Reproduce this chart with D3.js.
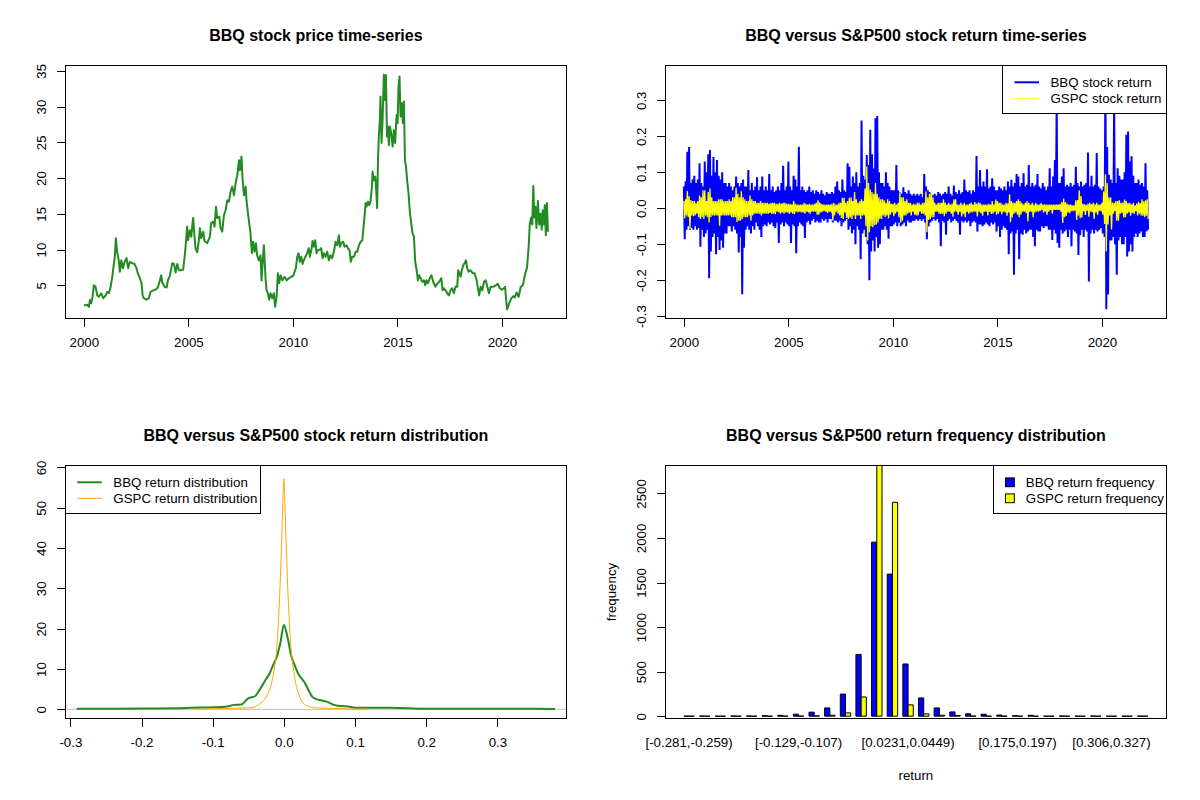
<!DOCTYPE html>
<html>
<head>
<meta charset="utf-8">
<script src="https://cdn.jsdelivr.net/npm/d3@7"></script>
<style>
  body { margin: 0; background: #fff; }
  text { font-family: "Liberation Sans", Arial, sans-serif; }
</style>
</head>
<body>
<svg id="chart" width="1200" height="800"></svg>
<script>
// ---- data ----

// BBQ closing price, [decimal year, price]
const priceSeries = [
  [2000.00,2.25],[2000.08,2.2],[2000.16,2.3],[2000.24,2.0],[2000.29,2.95],[2000.35,2.5],[2000.41,3.3],[2000.48,5.0],
  [2000.56,4.8],[2000.64,3.6],[2000.72,3.4],[2000.83,3.9],[2000.93,3.2],[2001.04,3.6],[2001.12,4.1],[2001.20,3.9],
  [2001.28,4.8],[2001.36,6.2],[2001.44,8.1],[2001.48,9.0],[2001.53,11.6],[2001.59,9.7],[2001.67,8.5],[2001.72,6.9],
  [2001.79,8.5],[2001.87,7.4],[2001.95,8.3],[2002.04,8.8],[2002.12,7.4],[2002.20,8.3],[2002.31,8.1],[2002.42,8.0],
  [2002.52,7.4],[2002.58,6.7],[2002.68,6.0],[2002.76,5.3],[2002.81,3.6],[2002.87,3.2],[2003.00,3.0],[2003.11,3.2],
  [2003.19,4.1],[2003.32,4.3],[2003.43,4.4],[2003.54,4.7],[2003.64,5.7],[2003.70,6.4],[2003.75,5.4],[2003.86,4.8],
  [2003.96,4.7],[2004.02,5.7],[2004.11,6.3],[2004.23,8.1],[2004.31,8.0],[2004.39,6.8],[2004.47,8.0],[2004.55,7.1],
  [2004.66,7.1],[2004.75,7.2],[2004.82,9.0],[2004.86,10.2],[2004.94,13.2],[2004.99,11.3],[2005.07,12.7],[2005.14,11.8],
  [2005.20,13.7],[2005.23,14.4],[2005.30,11.6],[2005.34,10.2],[2005.42,9.6],[2005.50,11.3],[2005.55,13.0],[2005.61,11.6],
  [2005.71,12.5],[2005.77,11.2],[2005.90,10.9],[2006.03,11.8],[2006.09,13.7],[2006.19,13.9],[2006.25,13.2],[2006.32,16.0],
  [2006.38,14.4],[2006.48,14.6],[2006.54,13.0],[2006.62,12.5],[2006.70,14.8],[2006.78,15.5],[2006.86,16.9],[2006.94,16.7],
  [2007.02,18.1],[2007.10,18.8],[2007.18,17.6],[2007.26,19.3],[2007.34,20.4],[2007.42,22.5],[2007.46,21.1],[2007.50,21.6],
  [2007.54,23.0],[2007.59,20.0],[2007.66,17.6],[2007.74,18.8],[2007.78,16.9],[2007.85,15.1],[2007.91,13.7],[2007.97,12.3],
  [2008.04,9.5],[2008.10,11.1],[2008.17,9.7],[2008.23,10.9],[2008.29,9.2],[2008.37,8.5],[2008.45,9.2],[2008.50,5.7],
  [2008.56,8.5],[2008.61,10.6],[2008.64,9.0],[2008.69,6.0],[2008.74,4.3],[2008.80,3.9],[2008.87,3.0],[2008.93,3.9],
  [2009.01,3.2],[2009.09,3.9],[2009.15,2.0],[2009.22,3.4],[2009.28,6.7],[2009.34,5.3],[2009.41,6.4],[2009.50,5.7],
  [2009.60,6.2],[2009.70,5.7],[2009.81,6.0],[2009.92,6.2],[2010.01,6.3],[2010.08,6.9],[2010.14,7.4],[2010.21,9.0],
  [2010.27,9.5],[2010.33,8.3],[2010.40,9.0],[2010.46,8.0],[2010.52,8.5],[2010.60,9.0],[2010.68,9.5],[2010.76,10.2],
  [2010.81,9.0],[2010.88,9.9],[2010.94,11.2],[2011.00,10.4],[2011.07,11.3],[2011.13,9.5],[2011.19,9.9],[2011.29,10.0],
  [2011.35,10.2],[2011.42,8.8],[2011.48,9.5],[2011.56,9.0],[2011.64,9.7],[2011.72,8.5],[2011.80,9.2],[2011.88,8.8],
  [2011.96,9.7],[2012.04,11.1],[2012.12,10.6],[2012.20,12.0],[2012.25,10.4],[2012.31,10.9],[2012.41,11.1],[2012.47,10.4],
  [2012.57,10.6],[2012.63,10.2],[2012.71,9.9],[2012.77,8.3],[2012.84,9.0],[2012.92,9.0],[2013.00,9.7],[2013.08,9.7],
  [2013.16,10.6],[2013.24,11.1],[2013.32,11.3],[2013.36,12.5],[2013.43,14.8],[2013.48,16.5],[2013.52,16.0],[2013.59,16.7],
  [2013.65,16.2],[2013.71,16.7],[2013.78,18.8],[2013.81,20.9],[2013.87,19.7],[2013.94,20.2],[2013.99,18.1],[2014.03,15.8],
  [2014.07,22.5],[2014.11,25.8],[2014.16,28.1],[2014.19,31.4],[2014.24,24.9],[2014.29,28.1],[2014.35,34.45],[2014.40,30.9],
  [2014.45,34.4],[2014.50,25.8],[2014.54,27.2],[2014.59,24.6],[2014.64,27.2],[2014.70,26.3],[2014.77,24.4],[2014.83,26.7],
  [2014.89,24.9],[2014.96,28.8],[2015.01,27.7],[2015.05,32.6],[2015.10,34.2],[2015.15,28.6],[2015.20,30.5],[2015.26,27.7],
  [2015.31,30.7],[2015.36,22.5],[2015.41,21.6],[2015.47,19.5],[2015.53,17.9],[2015.60,15.1],[2015.66,13.7],[2015.72,12.3],
  [2015.79,11.8],[2015.85,8.3],[2015.92,7.1],[2015.98,5.7],[2016.04,6.4],[2016.11,6.0],[2016.19,5.5],[2016.27,5.7],
  [2016.33,5.0],[2016.39,5.7],[2016.46,5.3],[2016.55,6.0],[2016.63,6.4],[2016.71,5.5],[2016.82,4.8],[2016.90,5.2],
  [2017.00,5.5],[2017.10,6.0],[2017.16,4.3],[2017.22,4.6],[2017.30,4.3],[2017.38,3.9],[2017.46,3.6],[2017.54,4.3],
  [2017.62,4.6],[2017.70,3.9],[2017.78,4.8],[2017.86,4.8],[2017.91,7.1],[2017.96,6.7],[2018.02,6.2],[2018.08,7.1],
  [2018.15,7.8],[2018.21,8.1],[2018.28,8.5],[2018.34,7.4],[2018.40,6.9],[2018.50,7.1],[2018.60,6.7],[2018.69,6.7],
  [2018.79,5.7],[2018.85,4.6],[2018.91,3.6],[2018.98,4.8],[2019.06,4.3],[2019.14,5.5],[2019.22,5.7],[2019.30,4.8],
  [2019.38,3.9],[2019.46,4.8],[2019.58,4.8],[2019.70,5.0],[2019.80,5.2],[2019.90,4.6],[2020.00,4.4],[2020.10,4.6],
  [2020.15,4.8],[2020.20,3.0],[2020.25,1.65],[2020.30,2.1],[2020.35,2.5],[2020.45,3.2],[2020.55,3.5],[2020.62,3.3],
  [2020.70,4.0],[2020.80,3.4],[2020.90,4.8],[2021.00,5.0],[2021.10,6.5],[2021.20,7.5],[2021.28,10.5],[2021.33,13.5],
  [2021.40,14.5],[2021.45,13.5],[2021.50,18.9],[2021.55,14.5],[2021.60,16.0],[2021.65,13.0],[2021.72,16.8],[2021.78,13.5],
  [2021.85,15.0],[2021.90,12.8],[2021.95,15.5],[2022.00,13.5],[2022.05,16.2],[2022.10,12.0],[2022.15,16.5],[2022.20,12.5]
];

// monthly highest / lowest daily return, Jan 2000 .. Mar 2022 (one row per year)
const bbqHi = [
  0.06,0.075,0.157,0.17,0.07,0.08,0.09,0.07,0.08,0.125,0.07,0.06,
  0.13,0.1,0.15,0.162,0.09,0.142,0.1,0.134,0.09,0.08,0.1,0.07,
  0.07,0.06,0.07,0.06,0.05,0.06,0.088,0.07,0.06,0.07,0.08,0.06,
  0.06,0.106,0.05,0.07,0.05,0.06,0.086,0.05,0.06,0.088,0.05,0.06,
  0.05,0.095,0.05,0.06,0.045,0.05,0.06,0.05,0.07,0.118,0.05,0.06,
  0.13,0.06,0.05,0.09,0.08,0.06,0.171,0.05,0.06,0.05,0.045,0.05,
  0.06,0.045,0.05,0.04,0.05,0.045,0.04,0.05,0.04,0.035,0.045,0.04,
  0.04,0.045,0.04,0.06,0.074,0.05,0.045,0.08,0.05,0.045,0.125,0.115,
  0.06,0.088,0.07,0.1,0.06,0.07,0.244,0.09,0.08,0.148,0.12,0.218,
  0.15,0.11,0.25,0.256,0.1,0.07,0.07,0.06,0.1,0.07,0.06,0.05,
  0.05,0.05,0.12,0.05,0.045,0.04,0.058,0.045,0.04,0.05,0.04,0.035,
  0.04,0.035,0.04,0.035,0.04,0.03,0.095,0.06,0.05,0.045,0.04,0.035,
  0.04,0.035,0.045,0.04,0.035,0.04,0.045,0.04,0.06,0.04,0.035,0.063,
  0.045,0.04,0.05,0.04,0.045,0.08,0.05,0.045,0.05,0.04,0.05,0.045,
  0.145,0.06,0.106,0.06,0.074,0.06,0.108,0.055,0.06,0.083,0.06,0.05,
  0.05,0.06,0.055,0.05,0.06,0.05,0.074,0.06,0.079,0.06,0.07,0.095,
  0.088,0.06,0.07,0.097,0.06,0.065,0.12,0.06,0.07,0.06,0.065,0.095,
  0.06,0.055,0.07,0.06,0.05,0.06,0.111,0.06,0.088,0.134,0.3,0.07,
  0.07,0.088,0.111,0.06,0.065,0.06,0.07,0.06,0.065,0.115,0.07,0.06,
  0.074,0.06,0.065,0.07,0.155,0.06,0.09,0.06,0.065,0.153,0.06,0.055,
  0.05,0.06,0.371,0.17,0.093,0.08,0.07,0.30,0.07,0.111,0.09,0.08,
  0.08,0.1,0.204,0.213,0.13,0.144,0.09,0.07,0.07,0.08,0.065,0.07,
  0.06,0.125,0.05
];
const bbqLo = [
  -0.086,-0.06,-0.05,-0.06,-0.055,-0.06,-0.05,-0.06,-0.055,-0.107,-0.06,-0.08,
  -0.07,-0.06,-0.195,-0.12,-0.08,-0.07,-0.128,-0.08,-0.116,-0.09,-0.11,-0.07,
  -0.07,-0.05,-0.05,-0.065,-0.05,-0.06,-0.07,-0.123,-0.08,-0.239,-0.11,-0.06,
  -0.05,-0.06,-0.07,-0.05,-0.06,-0.04,-0.05,-0.06,-0.08,-0.05,-0.045,-0.05,
  -0.04,-0.045,-0.04,-0.05,-0.055,-0.04,-0.097,-0.045,-0.04,-0.05,-0.04,-0.045,
  -0.05,-0.097,-0.045,-0.05,-0.125,-0.05,-0.04,-0.045,-0.05,-0.083,-0.04,-0.035,
  -0.045,-0.035,-0.03,-0.04,-0.035,-0.04,-0.04,-0.03,-0.035,-0.03,-0.04,-0.03,
  -0.03,-0.04,-0.035,-0.035,-0.04,-0.035,-0.05,-0.04,-0.035,-0.03,-0.06,-0.05,
  -0.07,-0.06,-0.1,-0.05,-0.06,-0.142,-0.07,-0.06,-0.08,-0.1,-0.2,-0.12,
  -0.09,-0.12,-0.08,-0.11,-0.1,-0.06,-0.06,-0.05,-0.06,-0.085,-0.05,-0.05,
  -0.045,-0.04,-0.05,-0.04,-0.05,-0.045,-0.04,-0.05,-0.035,-0.04,-0.04,-0.035,
  -0.035,-0.03,-0.035,-0.03,-0.035,-0.03,-0.04,-0.086,-0.05,-0.04,-0.035,-0.03,
  -0.035,-0.03,-0.04,-0.106,-0.035,-0.04,-0.074,-0.035,-0.03,-0.04,-0.035,-0.03,
  -0.035,-0.04,-0.074,-0.035,-0.04,-0.035,-0.04,-0.035,-0.05,-0.04,-0.035,-0.04,
  -0.065,-0.045,-0.045,-0.05,-0.045,-0.04,-0.045,-0.05,-0.04,-0.045,-0.04,-0.065,
  -0.05,-0.08,-0.06,-0.05,-0.055,-0.06,-0.128,-0.07,-0.065,-0.185,-0.07,-0.06,
  -0.142,-0.07,-0.074,-0.06,-0.07,-0.065,-0.06,-0.06,-0.08,-0.106,-0.06,-0.065,
  -0.065,-0.05,-0.055,-0.05,-0.05,-0.06,-0.06,-0.088,-0.06,-0.07,-0.097,-0.11,
  -0.06,-0.07,-0.065,-0.06,-0.08,-0.06,-0.106,-0.06,-0.065,-0.07,-0.13,-0.075,
  -0.06,-0.08,-0.06,-0.065,-0.204,-0.07,-0.06,-0.07,-0.06,-0.065,-0.06,-0.055,
  -0.07,-0.08,-0.281,-0.24,-0.09,-0.09,-0.08,-0.1,-0.185,-0.09,-0.08,-0.1,
  -0.1,-0.08,-0.134,-0.12,-0.1,-0.12,-0.08,-0.07,-0.08,-0.07,-0.065,-0.08,
  -0.08,-0.065,-0.06
];
const gspcHi = [
  0.02,0.025,0.048,0.033,0.023,0.02,0.02,0.015,0.02,0.035,0.03,0.05,
  0.05,0.02,0.045,0.055,0.03,0.02,0.02,0.02,0.025,0.025,0.025,0.02,
  0.02,0.02,0.025,0.02,0.03,0.03,0.057,0.04,0.03,0.047,0.03,0.025,
  0.02,0.02,0.035,0.025,0.02,0.02,0.015,0.015,0.02,0.015,0.015,0.015,
  0.015,0.012,0.015,0.015,0.015,0.012,0.012,0.015,0.012,0.015,0.015,0.012,
  0.012,0.012,0.01,0.02,0.012,0.01,0.01,0.01,0.01,0.015,0.012,0.01,
  0.012,0.01,0.01,0.012,0.015,0.022,0.016,0.012,0.01,0.01,0.01,0.01,
  0.01,0.012,0.015,0.01,0.01,0.015,0.015,0.029,0.029,0.015,0.02,0.029,
  0.03,0.02,0.045,0.025,0.015,0.02,0.025,0.02,0.055,0.116,0.07,0.052,
  0.045,0.04,0.07,0.04,0.03,0.025,0.025,0.022,0.015,0.025,0.02,0.012,
  0.012,0.015,0.01,0.015,0.044,0.03,0.03,0.02,0.025,0.015,0.015,0.01,
  0.012,0.01,0.015,0.015,0.01,0.015,0.015,0.047,0.03,0.04,0.043,0.03,
  0.015,0.01,0.015,0.015,0.015,0.025,0.016,0.01,0.015,0.01,0.013,0.025,
  0.025,0.01,0.01,0.015,0.01,0.015,0.01,0.01,0.012,0.015,0.01,0.017,
  0.012,0.016,0.015,0.01,0.01,0.01,0.01,0.012,0.01,0.02,0.01,0.024,
  0.02,0.015,0.015,0.01,0.01,0.015,0.013,0.039,0.02,0.016,0.015,0.02,
  0.025,0.02,0.015,0.01,0.015,0.02,0.015,0.01,0.015,0.01,0.015,0.01,
  0.01,0.014,0.01,0.011,0.01,0.01,0.01,0.01,0.01,0.01,0.01,0.01,
  0.012,0.017,0.027,0.017,0.013,0.01,0.01,0.008,0.008,0.022,0.023,0.05,
  0.034,0.012,0.011,0.009,0.012,0.015,0.011,0.015,0.011,0.015,0.01,0.01,
  0.015,0.046,0.094,0.07,0.03,0.03,0.016,0.015,0.02,0.02,0.022,0.015,
  0.016,0.024,0.02,0.014,0.015,0.011,0.015,0.008,0.013,0.018,0.014,0.025,
  0.019,0.022,0.025
];
const gspcLo = [
  -0.028,-0.02,-0.025,-0.058,-0.02,-0.022,-0.02,-0.015,-0.025,-0.03,-0.025,-0.03,
  -0.02,-0.025,-0.04,-0.025,-0.02,-0.02,-0.02,-0.02,-0.049,-0.02,-0.02,-0.02,
  -0.02,-0.02,-0.02,-0.025,-0.025,-0.025,-0.038,-0.035,-0.035,-0.03,-0.025,-0.025,
  -0.025,-0.02,-0.035,-0.02,-0.015,-0.015,-0.015,-0.015,-0.02,-0.015,-0.015,-0.015,
  -0.015,-0.013,-0.016,-0.015,-0.017,-0.01,-0.012,-0.015,-0.012,-0.015,-0.012,-0.012,
  -0.015,-0.012,-0.015,-0.017,-0.01,-0.012,-0.01,-0.012,-0.012,-0.015,-0.01,-0.012,
  -0.015,-0.01,-0.01,-0.01,-0.018,-0.018,-0.012,-0.01,-0.008,-0.01,-0.013,-0.01,
  -0.012,-0.035,-0.02,-0.01,-0.015,-0.02,-0.027,-0.03,-0.012,-0.027,-0.03,-0.026,
  -0.03,-0.02,-0.03,-0.02,-0.02,-0.03,-0.02,-0.02,-0.05,-0.09,-0.067,-0.05,
  -0.053,-0.047,-0.045,-0.04,-0.03,-0.03,-0.02,-0.025,-0.02,-0.028,-0.018,-0.012,
  -0.022,-0.015,-0.01,-0.025,-0.04,-0.035,-0.02,-0.02,-0.015,-0.012,-0.02,-0.01,
  -0.018,-0.02,-0.02,-0.01,-0.015,-0.015,-0.02,-0.067,-0.033,-0.03,-0.025,-0.025,
  -0.01,-0.01,-0.015,-0.017,-0.015,-0.022,-0.015,-0.01,-0.01,-0.015,-0.024,-0.01,
  -0.01,-0.018,-0.01,-0.023,-0.015,-0.025,-0.01,-0.015,-0.012,-0.012,-0.01,-0.01,
  -0.023,-0.01,-0.014,-0.021,-0.01,-0.01,-0.02,-0.01,-0.016,-0.015,-0.01,-0.018,
  -0.015,-0.01,-0.017,-0.01,-0.012,-0.021,-0.012,-0.039,-0.026,-0.015,-0.012,-0.018,
  -0.025,-0.018,-0.01,-0.01,-0.013,-0.036,-0.01,-0.01,-0.025,-0.012,-0.01,-0.01,
  -0.008,-0.005,-0.012,-0.01,-0.018,-0.01,-0.005,-0.015,-0.005,-0.005,-0.005,-0.005,
  -0.01,-0.041,-0.025,-0.022,-0.012,-0.014,-0.008,-0.008,-0.007,-0.033,-0.02,-0.028,
  -0.026,-0.008,-0.019,-0.007,-0.024,-0.01,-0.011,-0.03,-0.012,-0.018,-0.007,-0.009,
  -0.018,-0.044,-0.12,-0.045,-0.02,-0.059,-0.015,-0.008,-0.035,-0.035,-0.015,-0.013,
  -0.026,-0.025,-0.015,-0.012,-0.021,-0.013,-0.016,-0.008,-0.02,-0.015,-0.02,-0.021,
  -0.025,-0.021,-0.03
];

// kernel density estimates
const bbqDensX = [-0.291,-0.25,-0.2,-0.15,-0.13,-0.1,-0.08,-0.07,-0.06,-0.05,-0.045,-0.04,-0.035,-0.03,-0.025,-0.02,-0.015,-0.01,-0.005,0,
  0.005,0.01,0.015,0.02,0.025,0.03,0.035,0.04,0.045,0.05,0.06,0.07,0.08,0.09,0.1,0.15,0.2,0.25,0.3,0.35,0.381];
const bbqDensY = [0.15,0.15,0.2,0.25,0.4,0.5,0.7,1.1,1.2,2.7,3.0,3.3,4.6,6.0,7.5,8.9,11.0,13.0,16.4,20.9,
  18.0,13.5,11.0,8.9,7.6,6.4,4.6,3.1,2.6,2.3,1.9,1.1,0.8,0.7,0.4,0.4,0.15,0.15,0.15,0.15,0.1];
const gspcDensX = [-0.125,-0.1,-0.08,-0.06,-0.045,-0.033,-0.025,-0.0175,-0.0135,-0.0102,-0.007,-0.0035,-0.0015,0,
  0.0015,0.0035,0.007,0.0102,0.0135,0.0167,0.022,0.027,0.035,0.045,0.06,0.08,0.09,0.118];
const gspcDensY = [0.02,0.1,0.2,0.3,0.4,1.5,3.0,6.4,10,14.7,24,39.5,51,57.2,
  51,39.5,24,14.7,10,6.4,3.2,1.5,0.7,0.35,0.25,0.2,0.1,0.02];
const densityYMax = 58.2;

// frequency table, 30 equal bins
const binBreaks = ["-0.281","-0.259","-0.238","-0.216","-0.194","-0.173","-0.151","-0.129","-0.107","-0.0856","-0.0638",
  "-0.0421","-0.0204","0.00139","0.0231","0.0449","0.0666","0.0884","0.11","0.132","0.154","0.175","0.197","0.219",
  "0.241","0.262","0.284","0.306","0.327","0.349","0.371"];
const bbqCounts  = [1,2,0,3,3,5,10,22,45,93,248,693,1953,1594,586,205,93,48,26,22,13,6,10,0,3,1,2,0,0,1];
const gspcCounts = [0,0,0,0,0,0,0,1,4,11,37,216,2815,2400,127,26,11,8,2,0,0,0,0,0,0,0,0,0,0,0];
const shownBins = [0, 7, 14, 21, 27];

// tick labels
const yearTicks = [2000, 2005, 2010, 2015, 2020];
const priceTicks = [5, 10, 15, 20, 25, 30, 35];
const returnTicks = [-0.3, -0.2, -0.1, 0, 0.1, 0.2, 0.3];
const returnTickLabels = ["-0.3", "-0.2", "-0.1", "0.0", "0.1", "0.2", "0.3"];
const densityTicks = [0, 10, 20, 30, 40, 50, 60];
const freqTicks = [0, 500, 1000, 1500, 2000, 2500];

// ---- layout ----
const svg = d3.select("#chart");
svg.append("rect").attr("width", 1200).attr("height", 800).attr("fill", "#fff");

const plotW = 501.2, plotH = 253.4;
const corners = [[65.3, 65.3], [665.3, 65.3], [65.3, 465.3], [665.3, 465.3]];
const fontSize = 13.3;

// R style 4% range extension
function pad(ext) {
  const r = ext[1] - ext[0];
  return [ext[0] - 0.04 * r, ext[1] + 0.04 * r];
}

function makePanel(i, title, xDomain, yDomain) {
  const [left, top] = corners[i];
  const g = svg.append("g").attr("transform", `translate(${left},${top})`);
  const x = d3.scaleLinear().domain(xDomain).range([0, plotW]);
  const y = d3.scaleLinear().domain(yDomain).range([plotH, 0]);
  g.append("clipPath").attr("id", "clip" + i)
    .append("rect").attr("width", plotW).attr("height", plotH);
  const plot = g.append("g").attr("clip-path", `url(#clip${i})`);
  svg.append("text")
    .attr("x", left + plotW / 2).attr("y", top - 30.3)
    .attr("dy", "0.35em").attr("text-anchor", "middle")
    .attr("font-size", 16).attr("font-weight", "bold")
    .text(title);
  return { g, x, y, plot };
}

function bottomAxis(P, ticks, fmt) {
  P.g.append("g")
    .attr("transform", `translate(0,${plotH})`)
    .call(d3.axisBottom(P.x).tickValues(ticks).tickFormat(fmt).tickSize(8).tickSizeOuter(0))
    .attr("font-size", fontSize).attr("font-family", null)
    .call(a => a.select(".domain").remove())
    .call(a => a.selectAll("line").attr("shape-rendering", "crispEdges"))
    .call(a => a.selectAll("text").attr("y", 24).attr("dy", "0.35em").attr("fill", "#000"));
}

function leftAxis(P, ticks, fmt) {
  P.g.append("g")
    .call(d3.axisLeft(P.y).tickValues(ticks).tickFormat(fmt).tickSize(8).tickSizeOuter(0))
    .attr("font-size", fontSize).attr("font-family", null)
    .call(a => a.select(".domain").remove())
    .call(a => a.selectAll("line").attr("shape-rendering", "crispEdges"))
    .call(a => a.selectAll("text")
      .attr("x", null).attr("dy", "0.35em").attr("text-anchor", "middle").attr("fill", "#000")
      .attr("transform", "translate(-23.6,0) rotate(-90)"));
}

function box(P) {
  P.g.append("rect").attr("width", plotW).attr("height", plotH)
    .attr("fill", "none").attr("stroke", "#000").attr("shape-rendering", "crispEdges");
}

// legend in the panel corner; items: {label, color, lw} for lines or {label, color, fill:true}
function legend(P, left, width, items) {
  const lg = P.g.append("g").attr("transform", `translate(${left},0)`);
  lg.append("rect").attr("width", width).attr("height", 48)
    .attr("fill", "#fff").attr("stroke", "#000").attr("shape-rendering", "crispEdges");
  items.forEach((d, k) => {
    const cy = 17 + 16 * k;
    if (d.fill) {
      lg.append("rect").attr("x", 12.2).attr("y", cy - 4.4).attr("width", 8.8).attr("height", 8.8)
        .attr("fill", d.color).attr("stroke", "#000");
    } else {
      lg.append("line").attr("x1", 12).attr("x2", 36.5).attr("y1", cy).attr("y2", cy)
        .attr("stroke", d.color).attr("stroke-width", d.lw);
    }
    lg.append("text").attr("x", d.fill ? 32.5 : 48).attr("y", cy).attr("dy", "0.35em")
      .attr("font-size", fontSize).text(d.label);
  });
}

const monthTime = i => 2000 + i / 12;
const timeDomain = pad([priceSeries[0][0], priceSeries[priceSeries.length - 1][0]]);

// ---- 1: price time-series ----
{
  const P = makePanel(0, "BBQ stock price time-series", timeDomain,
    pad(d3.extent(priceSeries, d => d[1])));
  P.plot.append("path").datum(priceSeries)
    .attr("fill", "none").attr("stroke", "#228B22").attr("stroke-width", 2)
    .attr("stroke-linejoin", "round")
    .attr("d", d3.line().x(d => P.x(d[0])).y(d => P.y(d[1])));
  bottomAxis(P, yearTicks, d3.format("d"));
  leftAxis(P, priceTicks, d3.format("d"));
  box(P);
}

// ---- 2: return time-series ----
{
  const P = makePanel(1, "BBQ versus S&P500 stock return time-series", timeDomain,
    pad([d3.min(bbqLo), d3.max(bbqHi)]));
  // daily path drawn as a monthly high/low zig-zag
  const zigzag = (hi, lo) => hi.flatMap((h, i) => [[monthTime(i), h], [monthTime(i) + 1 / 24, lo[i]]]);
  const line = d3.line().x(d => P.x(d[0])).y(d => P.y(d[1]));
  P.plot.append("path").datum(zigzag(bbqHi, bbqLo))
    .attr("fill", "none").attr("stroke", "#0000FF").attr("stroke-width", 2).attr("d", line);
  P.plot.append("path").datum(zigzag(gspcHi, gspcLo))
    .attr("fill", "none").attr("stroke", "#FFFF00").attr("stroke-width", 1.3).attr("d", line);
  bottomAxis(P, yearTicks, d3.format("d"));
  leftAxis(P, returnTicks, (d, i) => returnTickLabels[i]);
  box(P);
  legend(P, 337.2, 164, [
    { label: "BBQ stock return", color: "#0000FF", lw: 2 },
    { label: "GSPC stock return", color: "#FFFF00", lw: 1 }
  ]);
}

// ---- 3: return density ----
{
  const P = makePanel(2, "BBQ versus S&P500 stock return distribution",
    pad([d3.min(bbqLo), d3.max(bbqHi)]), pad([0, densityYMax]));
  const line = (xs, ys) => d3.line().curve(d3.curveMonotoneX)
    .x((d, i) => P.x(xs[i])).y(d => P.y(d))(ys);
  P.plot.append("line").attr("x1", 0).attr("x2", plotW).attr("y1", P.y(0)).attr("y2", P.y(0))
    .attr("stroke", "#BEBEBE");
  P.plot.append("path").attr("d", line(bbqDensX, bbqDensY))
    .attr("fill", "none").attr("stroke", "#228B22").attr("stroke-width", 2);
  P.plot.append("path").attr("d", line(gspcDensX, gspcDensY))
    .attr("fill", "none").attr("stroke", "#FFA500").attr("stroke-width", 1);
  bottomAxis(P, returnTicks, (d, i) => returnTickLabels[i]);
  leftAxis(P, densityTicks, d3.format("d"));
  box(P);
  legend(P, 0, 194.8, [
    { label: "BBQ return distribution", color: "#228B22", lw: 2 },
    { label: "GSPC return distribution", color: "#FFA500", lw: 1 }
  ]);
}

// ---- 4: frequency bars (grouped, R barplot layout: width 1, group gap 1) ----
{
  const nBins = bbqCounts.length;
  const binLabels = d3.range(nBins).map(k =>
    "[" + binBreaks[k] + "," + binBreaks[k + 1] + (k === nBins - 1 ? "]" : ")"));
  const maxCount = d3.max(bbqCounts.concat(gspcCounts));
  const P = makePanel(3, "BBQ versus S&P500 return frequency distribution",
    pad([1, 3 * nBins]), [-0.01 * maxCount, maxCount]);
  const bar = (x0, v) => `M${P.x(x0)},${P.y(0)}V${P.y(v)}H${P.x(x0 + 1)}V${P.y(0)}Z`;
  P.plot.selectAll("path.bbq").data(bbqCounts).join("path").attr("class", "bbq")
    .attr("d", (v, k) => bar(1 + 3 * k, v))
    .attr("fill", "#0000FF").attr("stroke", "#000");
  P.plot.selectAll("path.gspc").data(gspcCounts).join("path").attr("class", "gspc")
    .attr("d", (v, k) => bar(2 + 3 * k, v))
    .attr("fill", "#FFFF00").attr("stroke", "#000");
  P.g.selectAll("text.bin").data(shownBins).join("text").attr("class", "bin")
    .attr("x", k => P.x(2 + 3 * k)).attr("y", plotH + 24).attr("dy", "0.35em")
    .attr("text-anchor", "middle").attr("font-size", fontSize)
    .text(k => binLabels[k]);
  leftAxis(P, freqTicks, d3.format("d"));
  box(P);
  P.g.append("text").attr("x", plotW / 2).attr("y", plotH + 56.3).attr("dy", "0.35em")
    .attr("text-anchor", "middle").attr("font-size", fontSize).text("return");
  P.g.append("text").attr("transform", `translate(-54,${plotH / 2}) rotate(-90)`)
    .attr("dy", "0.35em").attr("text-anchor", "middle").attr("font-size", fontSize).text("frequency");
  legend(P, 328, 173.2, [
    { label: "BBQ return frequency", color: "#0000FF", fill: true },
    { label: "GSPC return frequency", color: "#FFFF00", fill: true }
  ]);
}
</script>
</body>
</html>
